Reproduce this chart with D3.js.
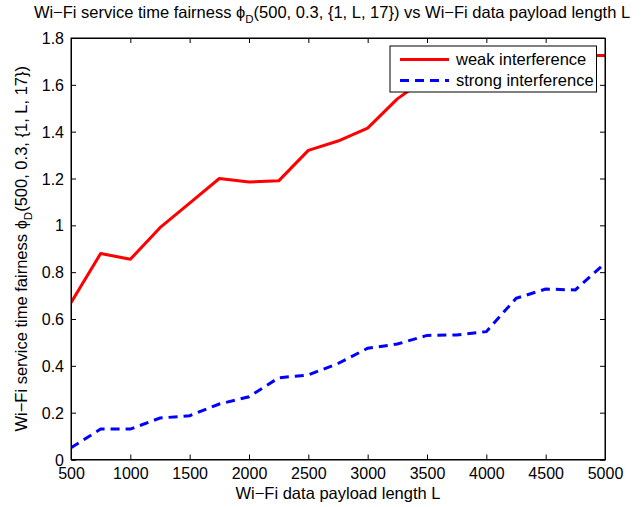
<!DOCTYPE html>
<html><head><meta charset="utf-8">
<script src="https://cdn.jsdelivr.net/npm/d3@7"></script>
<style>body{margin:0;background:#fff}text{font-family:"Liberation Sans",Arial,Helvetica,sans-serif}</style>
</head><body><svg id="c" width="642" height="507"></svg>
<script>
const payload = [500,750,1000,1250,1500,1750,2000,2250,2500,2750,3000,3250,3500,3750,4000,4250,4500,4750,5000];
const weak = [0.67,0.88,0.855,0.99,1.095,1.20,1.185,1.19,1.32,1.36,1.415,1.54,1.63,1.67,1.69,1.70,1.71,1.725,1.725];
const strong = [0.05,0.13,0.13,0.177,0.187,0.237,0.268,0.349,0.361,0.41,0.475,0.493,0.530,0.532,0.546,0.688,0.728,0.724,0.838];
const xTicks = [500,1000,1500,2000,2500,3000,3500,4000,4500,5000];
const yTicks = [0,0.2,0.4,0.6,0.8,1,1.2,1.4,1.6,1.8];
const seriesNames = ["weak interference","strong interference"];

const svg = d3.select("#c");
const L=71,R=605,T=38,B=459.5;
const x = d3.scaleLinear().domain([500,5000]).range([L,R]);
const y = d3.scaleLinear().domain([0,1.8]).range([B,T]);
const fsT = 16, fs = 16.5, fsSub = 11.5;

const cp = svg.append("defs").append("clipPath").attr("id","pc");
cp.append("rect").attr("x",L).attr("y",T).attr("width",R-L).attr("height",B-T);

const line = d3.line().x((d,i)=>x(payload[i])).y(d=>y(d));
const g = svg.append("g").attr("clip-path","url(#pc)");
g.append("path").datum(weak).attr("d",line).attr("fill","none").attr("stroke","#ff0000").attr("stroke-width",3).attr("stroke-linejoin","round");
g.append("path").datum(strong).attr("d",line).attr("fill","none").attr("stroke","#0000ff").attr("stroke-width",3).attr("stroke-dasharray","9,6");

const fmt = d=>String(d);
const ax = svg.append("g").attr("transform",`translate(0,${B})`).call(d3.axisBottom(x).tickValues(xTicks).tickSize(-5).tickPadding(8).tickFormat(fmt));
const axT = svg.append("g").attr("transform",`translate(0,${T})`).call(d3.axisTop(x).tickValues(xTicks).tickSize(-5).tickFormat(""));
const ay = svg.append("g").attr("transform",`translate(${L},0)`).call(d3.axisLeft(y).tickValues(yTicks).tickSize(-5).tickPadding(7).tickFormat(fmt));
const ayR = svg.append("g").attr("transform",`translate(${R},0)`).call(d3.axisRight(y).tickValues(yTicks).tickSize(-5).tickFormat(""));
[ax,axT,ay,ayR].forEach(a=>{a.select(".domain").attr("stroke","#000").attr("stroke-width",1);a.selectAll(".tick line").attr("stroke","#000");a.selectAll("text").attr("font-size",fsT).attr("fill","#000").attr("font-family","Liberation Sans, Arial, sans-serif");});
ax.selectAll("text").attr("dy","0.71em");
ay.selectAll("text").attr("dy","0.35em");
svg.append("rect").attr("x",L).attr("y",T).attr("width",R-L).attr("height",B-T).attr("fill","none").attr("stroke","#000").attr("stroke-width",1);

// title
const t = svg.append("text").attr("x",332).attr("y",18).attr("text-anchor","middle").attr("font-size",fs);
t.append("tspan").text("Wi\u2212Fi service time fairness \u03d5");
t.append("tspan").attr("font-size",fsSub).attr("dy",5).text("D");
t.append("tspan").attr("dy",-5).text("(500, 0.3, {1, L, 17}) vs Wi\u2212Fi data payload length L");

// x label
svg.append("text").attr("x",(L+R)/2).attr("y",498.5).attr("text-anchor","middle").attr("font-size",fs).text("Wi\u2212Fi data payload length L");

// y label
const yl = svg.append("text").attr("transform",`translate(27,${(T+B)/2}) rotate(-90)`).attr("text-anchor","middle").attr("font-size",fs);
yl.append("tspan").text("Wi\u2212Fi service time fairness \u03d5");
yl.append("tspan").attr("font-size",fsSub).attr("dy",5).text("D");
yl.append("tspan").attr("dy",-5).text("(500, 0.3, {1, L, 17})");

// legend
const lg = svg.append("g");
lg.append("rect").attr("x",390).attr("y",46).attr("width",206.5).attr("height",46).attr("fill","#fff").attr("stroke","#000").attr("stroke-width",1);
const rows=[{n:seriesNames[0],c:"#ff0000",d:null,yy:59.5},{n:seriesNames[1],c:"#0000ff",d:"9,6",yy:80.5}];
rows.forEach(r=>{
  lg.append("line").attr("x1",400).attr("x2",449).attr("y1",r.yy).attr("y2",r.yy).attr("stroke",r.c).attr("stroke-width",3).attr("stroke-dasharray",r.d);
  lg.append("text").attr("x",456).attr("y",r.yy).attr("dy","0.35em").attr("font-size",fs).text(r.n);
});
</script></body></html>
